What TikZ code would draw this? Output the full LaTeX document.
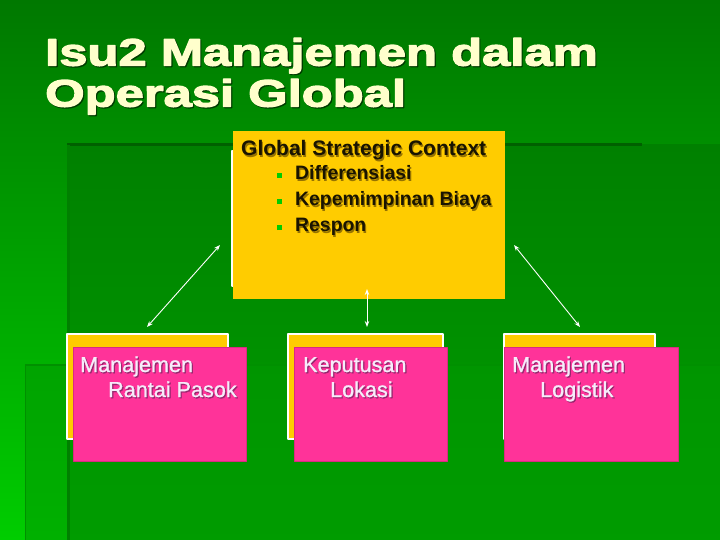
\documentclass[tikz,border=0pt]{standalone}
\usepackage{fontspec}
\setmainfont{Liberation Sans}
\newfontfamily\titlefont{Liberation Sans Bold}[FakeStretch=1.335,FakeBold=3.5]
\newfontfamily\boxfont{Liberation Sans}[FakeBold=1.2]
\usetikzlibrary{arrows.meta}

\definecolor{bgtop}{RGB}{0,120,0}
\definecolor{bgbottom}{RGB}{0,205,0}
\definecolor{paneltop}{RGB}{0,128,0}
\definecolor{panelbottom}{RGB}{0,160,0}
\definecolor{panelline}{RGB}{0,96,0}
\definecolor{titlecream}{RGB}{255,255,204}
\definecolor{titleshadow}{RGB}{0,60,0}
\definecolor{boxyellow}{RGB}{255,204,0}
\definecolor{boxpink}{RGB}{255,51,153}
\definecolor{pinktext}{RGB}{246,236,250}
\definecolor{pinkshadow}{RGB}{150,40,110}
\definecolor{darktext}{RGB}{25,20,0}
\definecolor{darkshadow}{RGB}{150,115,0}
\definecolor{bulletgreen}{RGB}{0,204,0}

% text with a small drop shadow
\newcommand{\shadowed}[2]{\rlap{\kern1.2pt\lower1.2pt\hbox{\color{#1}#2}}#2}

\begin{document}
\begin{tikzpicture}[x=1pt, y=-1pt, line join=round,
    backbox/.style={draw=white, line width=2.2pt, fill=boxyellow, anchor=north west, inner sep=0},
    pinkbox/.style={draw=boxpink!85!black, line width=0.6pt, fill=boxpink, anchor=north west, inner sep=0},
    pinklabel/.style={anchor=base west, inner sep=0, text=pinktext, font=\boxfont\fontsize{21.6}{25}\selectfont},
    darklabel/.style={anchor=base west, inner sep=0, text=darktext, font=\bfseries\fontsize{21}{25}\selectfont},
    link/.style={draw=white, line width=0.9pt, {Stealth[length=6pt,width=4.5pt]}-{Stealth[length=6pt,width=4.5pt]}}]
    \useasboundingbox (0,0) rectangle (720,540);

    % Draw slide background and panels
    \shade[top color=bgtop, bottom color=bgbottom] (0,0) rectangle (720,540);
    \shade[top color=paneltop, bottom color=panelbottom] (67,145) rectangle (720,540);
    \fill[green!60!black, opacity=0.55] (25,365) rectangle (720,540);
    \draw[panelline, line width=3pt] (67,145) -- (642,145);
    \draw[panelline!80!green, line width=3pt] (68.5,145) -- (68.5,540);
    \draw[panelline!70!green, line width=1.5pt] (25,365) -- (720,365);
    \draw[panelline!70!green, line width=1.5pt] (25.5,365) -- (25.5,540);

    % Title
    \node[anchor=base west, inner sep=0, text=titlecream, font=\titlefont\fontsize{38}{41}\selectfont] (title1) at (45,65.5) {\shadowed{titleshadow}{Isu2 Manajemen dalam}};
    \node[anchor=base west, inner sep=0, text=titlecream, font=\titlefont\fontsize{38}{41}\selectfont] (title2) at (45,106.5) {\shadowed{titleshadow}{Operasi Global}};

    % Global strategic context (back frame, then front box)
    \node[backbox, minimum width=264, minimum height=135] (contextback) at (231,150) {};
    \node[fill=boxyellow, anchor=north west, inner sep=0, minimum width=272, minimum height=168] (context) at (233,131) {};
    \node[darklabel] (contexthead) at (241,156) {\shadowed{darkshadow}{Global Strategic Context}};
    \foreach \txt [count=\i] in {Differensiasi, Kepemimpinan Biaya, Respon}
        \node[darklabel, font=\bfseries\fontsize{19.4}{23}\selectfont] (strategy\i) at (277,154+26*\i)
            {\textcolor{bulletgreen}{\rule[1.8pt]{5pt}{5pt}}\hspace{13pt}\shadowed{darkshadow}{\txt}};

    % Bottom boxes (back frames)
    \node[backbox, minimum width=161, minimum height=105] (rantaiback) at (66,333) {};
    \node[backbox, minimum width=155, minimum height=105] (lokasiback) at (287,333) {};
    \node[backbox, minimum width=151, minimum height=105] (logistikback) at (503,333) {};

    % Bottom boxes (front)
    \node[pinkbox, minimum width=173, minimum height=114] (rantai) at (73,347) {};
    \node[pinkbox, minimum width=153, minimum height=114] (lokasi) at (294,347) {};
    \node[pinkbox, minimum width=174, minimum height=114] (logistik) at (504,347) {};

    % Labels of bottom boxes
    \node[pinklabel] (rantai1) at (80,372) {\shadowed{pinkshadow}{Manajemen}};
    \node[pinklabel] (rantai2) at (108,397) {\shadowed{pinkshadow}{Rantai Pasok}};
    \node[pinklabel] (lokasi1) at (303,372) {\shadowed{pinkshadow}{Keputusan}};
    \node[pinklabel] (lokasi2) at (330,397) {\shadowed{pinkshadow}{Lokasi}};
    \node[pinklabel] (logistik1) at (512,372) {\shadowed{pinkshadow}{Manajemen}};
    \node[pinklabel] (logistik2) at (540,397) {\shadowed{pinkshadow}{Logistik}};

    % Arrow ends
    \coordinate (contextleft) at (220,245);
    \coordinate (contextbottom) at (367,289);
    \coordinate (contextright) at (514,245);
    \coordinate (rantaitop) at (147,327);
    \coordinate (lokasitop) at (367,327);
    \coordinate (logistiktop) at (580,327);

    % Draw double arrows
    \draw[link] (contextleft) -- (rantaitop);
    \draw[link] (contextbottom) -- (lokasitop);
    \draw[link] (contextright) -- (logistiktop);
\end{tikzpicture}
\end{document}
